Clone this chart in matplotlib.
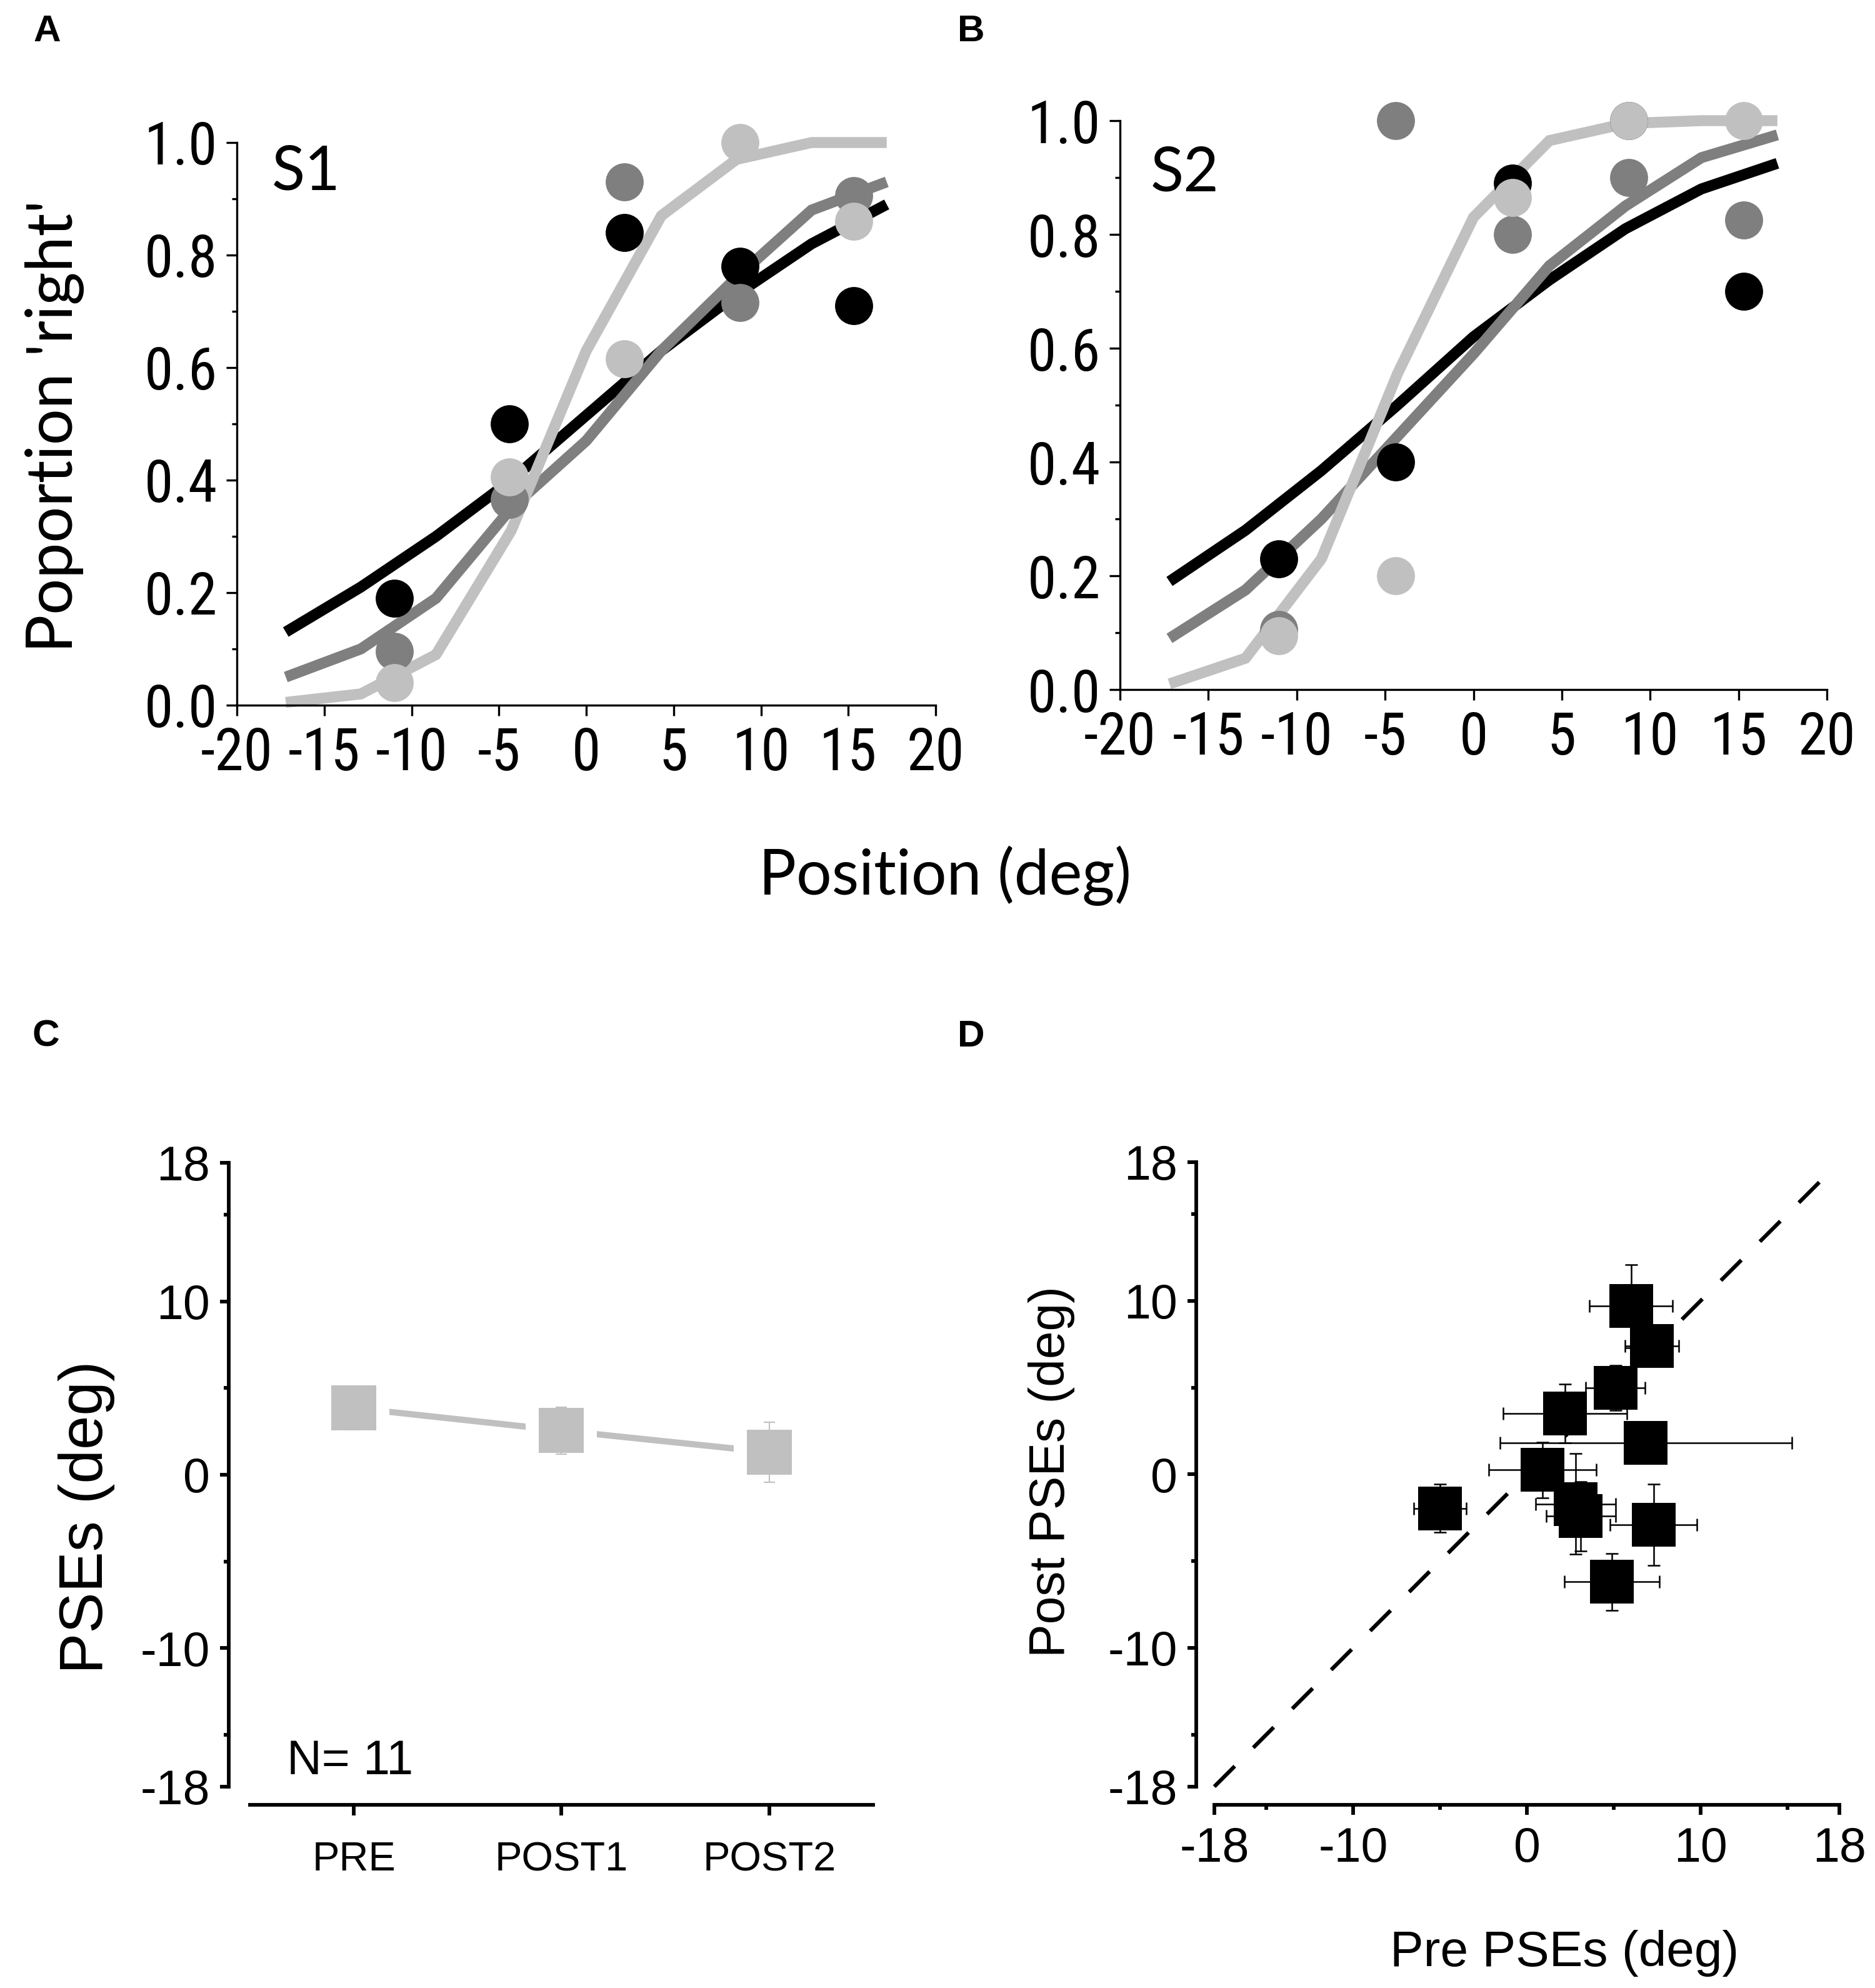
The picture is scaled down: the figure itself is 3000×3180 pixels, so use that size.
import matplotlib
matplotlib.use('Agg')
import matplotlib.pyplot as plt
from matplotlib import font_manager as fm
import numpy as np

# ---------------- data ----------------
stim_x = [-11.0, -4.4, 2.2, 8.8, 15.3]
fit_x = [-17.2, -12.9, -8.6, -4.3, 0.0, 4.3, 8.6, 12.9, 17.2]

s1_black_pts = [0.19, 0.50, 0.84, 0.78, 0.71]
s1_dgray_pts = [0.095, 0.365, 0.93, 0.715, 0.905]
s1_lgray_pts = [0.04, 0.405, 0.615, 1.0, 0.86]
s1_black_fit = [0.13, 0.21, 0.30, 0.40, 0.515, 0.63, 0.73, 0.82, 0.89]
s1_dgray_fit = [0.05, 0.10, 0.19, 0.35, 0.47, 0.63, 0.76, 0.88, 0.93]
s1_lgray_fit = [0.005, 0.02, 0.09, 0.31, 0.63, 0.87, 0.97, 1.0, 1.0]

s2_black_pts = [0.23, 0.40, 0.89, 1.0, 0.70]
s2_dgray_pts = [0.105, 1.0, 0.80, 0.90, 0.825]
s2_lgray_pts = [0.095, 0.20, 0.865, 1.0, 1.0]
s2_black_fit = [0.19, 0.28, 0.385, 0.50, 0.62, 0.72, 0.81, 0.88, 0.925]
s2_dgray_fit = [0.09, 0.175, 0.30, 0.445, 0.59, 0.745, 0.85, 0.935, 0.975]
s2_lgray_fit = [0.01, 0.055, 0.23, 0.555, 0.83, 0.965, 0.995, 1.0, 1.0]

psy_xticks = [-20, -15, -10, -5, 0, 5, 10, 15, 20]
psy_xlabels = ['-20', '-15', '-10', '-5', '0', '5', '10', '15', '20']
psy_yticks = [0.0, 0.2, 0.4, 0.6, 0.8, 1.0]
psy_ylabels = ['0.0', '0.2', '0.4', '0.6', '0.8', '1.0']

sessions = ['PRE', 'POST1', 'POST2']
pse_mean = [3.85, 2.55, 1.3]
pse_err = [1.25, 1.35, 1.73]

pre_pse = [6.0, 7.2, 5.1, 2.2, 6.85, 0.9, 2.8, 3.1, 7.3, 4.9, -5.0]
post_pse = [9.7, 7.4, 5.0, 3.5, 1.8, 0.25, -1.7, -2.4, -2.9, -6.2, -1.95]
pre_err = [2.4, 1.55, 1.7, 3.55, 8.4, 3.1, 2.3, 2.0, 2.5, 2.75, 1.5]
post_err = [2.4, 0.6, 1.3, 1.7, 0.9, 1.6, 2.9, 2.0, 2.35, 1.65, 1.4]
identity_range = [-18, 17]

pse_ticks = [-18, -10, 0, 10, 18]
pse_labels = ['-18', '-10', '0', '10', '18']
pse_minor = [-15, -5, 5, 15]

# ---------------- fonts ----------------
def narrow_font():
    """Find a condensed sans font; fall back to Liberation Sans."""
    for fam in ['Liberation Sans Narrow', 'Arial Narrow', 'Roboto Condensed',
                'Open Sans Condensed', 'DejaVu Sans Condensed']:
        try:
            fm.findfont(fm.FontProperties(family=fam), fallback_to_default=False)
            return dict(fontfamily=fam)
        except Exception:
            pass
    for f in fm.fontManager.ttflist:
        low = f.fname.lower()
        if ('narrow' in low or 'condensed' in low) and 'bold' not in low \
                and 'oblique' not in low and 'italic' not in low:
            return dict(fontproperties=fm.FontProperties(fname=f.fname))
    return dict(fontfamily='Liberation Sans')

NARROW_KW = narrow_font()
ARIAL = 'Liberation Sans'
CAL = 'Lato'

BLACK = '#000000'
DGRAY = '#7f7f7f'
LGRAY = '#c0c0c0'

W, H, DPI = 3000, 3180, 300
fig = plt.figure(figsize=(W / DPI, H / DPI), dpi=DPI)


def add_ax(l, t, r, b):
    return fig.add_axes([l / W, 1 - b / H, (r - l) / W, (b - t) / H])


def ftext(x, y, s, **kw):
    return fig.text(x / W, 1 - y / H, s, **kw)


# ---------------- panels A, B ----------------
def psych(ax, bp, dp, lp, bf, df, lf):
    ax.set_xlim(-20, 20)
    ax.set_ylim(0, 1)
    for fit, c in [(bf, BLACK), (df, DGRAY), (lf, LGRAY)]:
        ax.plot(fit_x, fit, color=c, lw=4.2, solid_capstyle='butt',
                solid_joinstyle='miter', zorder=2, clip_on=False)
    for pts, c in [(bp, BLACK), (dp, DGRAY), (lp, LGRAY)]:
        ax.plot(stim_x, pts, 'o', color=c, ms=14.6, mec='none', zorder=3,
                clip_on=False)
    for s in ['top', 'right']:
        ax.spines[s].set_visible(False)
    for s in ['left', 'bottom']:
        ax.spines[s].set_linewidth(0.8)
    ax.set_xticks(psy_xticks)
    ax.set_yticks(psy_yticks)
    ax.set_xticklabels(psy_xlabels, **NARROW_KW)
    ax.set_yticklabels(psy_ylabels, **NARROW_KW)
    for lab in ax.get_xticklabels() + ax.get_yticklabels():
        lab.set_fontsize(22.5)
    ax.set_yticks([0.1, 0.3, 0.5, 0.7, 0.9], minor=True)
    ax.tick_params(which='major', length=4, width=0.8, direction='out')
    ax.tick_params(axis='x', which='major', pad=4.0)
    ax.tick_params(axis='y', which='major', pad=3.5)
    ax.tick_params(which='minor', length=2, width=0.8, direction='out')
    ax.patch.set_visible(False)


axA = add_ax(379, 228, 1497, 1128)
psych(axA, s1_black_pts, s1_dgray_pts, s1_lgray_pts,
      s1_black_fit, s1_dgray_fit, s1_lgray_fit)
axB = add_ax(1792, 193, 2923, 1103)
psych(axB, s2_black_pts, s2_dgray_pts, s2_lgray_pts,
      s2_black_fit, s2_dgray_fit, s2_lgray_fit)

ftext(490, 275, 'S1', fontfamily=CAL, fontsize=23.5, ha='center', va='center')
ftext(1896, 277, 'S2', fontfamily=CAL, fontsize=23.5, ha='center', va='center')
ftext(88, 682, "Poportion 'right'", fontfamily=CAL, fontsize=24.5, rotation=90,
      ha='center', va='center')
ftext(1512, 1401, 'Position (deg)', fontfamily=CAL, fontsize=24,
      ha='center', va='center')

# ---------------- panel C ----------------
axC = add_ax(366, 1860, 1397, 2887)
axC.set_xlim(0.398, 3.5)
axC.set_ylim(-19.05, 18)
xc = np.arange(1, len(sessions) + 1)
axC.plot(xc, pse_mean, color=LGRAY, lw=2.4, zorder=1, solid_capstyle='butt')
axC.plot(xc, pse_mean, 's', ms=27.4, color='white', mec='none', zorder=2)
axC.errorbar(xc, pse_mean, yerr=pse_err, fmt='none', ecolor=LGRAY,
             elinewidth=0.5, capsize=2.2, capthick=0.5, zorder=3)
axC.plot(xc, pse_mean, 's', ms=17.3, color=LGRAY, mec='none', zorder=4)

# ---------------- panel D ----------------
axD = add_ax(1914, 1859, 2943, 2887)
axD.set_xlim(-19.04, 18)
axD.set_ylim(-19.05, 18)
axD.plot(identity_range, identity_range, color=BLACK, lw=1.5,
         dashes=(7.4, 6.7), zorder=1, clip_on=False)
axD.errorbar(pre_pse, post_pse, xerr=pre_err, yerr=post_err, fmt='none',
             ecolor=BLACK, elinewidth=0.6, capsize=2.5, capthick=0.6, zorder=2)
axD.plot(pre_pse, post_pse, 's', ms=16.8, color=BLACK, mec='none', zorder=3)

for ax in (axC, axD):
    for s in ['top', 'right']:
        ax.spines[s].set_visible(False)
    for s in ['left', 'bottom']:
        ax.spines[s].set_linewidth(1.4)
    ax.spines['left'].set_bounds(-18, 18)
    ax.set_yticks(pse_ticks, labels=pse_labels, fontfamily=ARIAL, fontsize=18.5)
    ax.set_yticks(pse_minor, minor=True)
    ax.tick_params(which='major', length=3.4, width=1.4, direction='out', pad=3.8)
    ax.tick_params(which='minor', length=2.0, width=1.4, direction='out')
    ax.patch.set_visible(False)

axC.spines['bottom'].set_bounds(0.5, 3.5)
axC.set_xticks(xc, labels=sessions, fontfamily=ARIAL, fontsize=15.6)
axC.tick_params(axis='x', which='major', length=4, pad=10)

axD.spines['bottom'].set_bounds(-18, 18)
axD.set_xticks(pse_ticks, labels=pse_labels, fontfamily=ARIAL, fontsize=18.5)
axD.set_xticks(pse_minor, minor=True)
axD.tick_params(axis='x', which='major', length=3.8, pad=4.3)

ftext(459, 2818, 'N= 11', fontfamily=ARIAL, fontsize=18.5, ha='left', va='center')
ftext(139, 2427, 'PSEs (deg)', fontfamily=ARIAL, fontsize=23.5, rotation=90,
      ha='center', va='center')
ftext(1682, 2354, 'Post PSEs (deg)', fontfamily=ARIAL, fontsize=19.3, rotation=90,
      ha='center', va='center')
ftext(2503, 3125, 'Pre PSEs (deg)', fontfamily=ARIAL, fontsize=19.3,
      ha='center', va='center')

# ---------------- panel letters ----------------
for letter, (lx, ly) in zip('ABCD', [(75, 50), (1554, 50), (73, 1658), (1554, 1658)]):
    ftext(lx, ly, letter, fontfamily=ARIAL, fontweight='bold', fontsize=14.5,
          ha='center', va='center')

fig.savefig('out.png', dpi=DPI)
